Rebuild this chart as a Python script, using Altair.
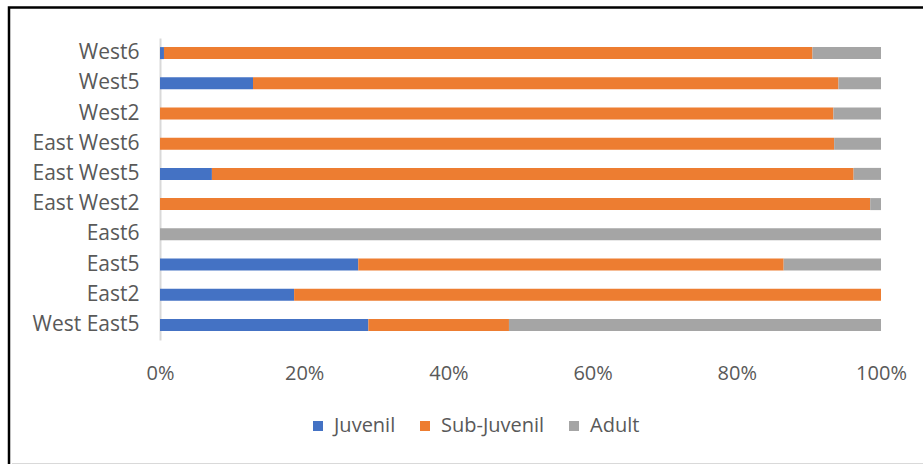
import altair as alt
import pandas as pd

categories = ["West6", "West5", "West2", "East West6", "East West5",
              "East West2", "East6", "East5", "East2", "West East5"]
juvenil = [0.55, 12.9, 0.0, 0.0, 7.2, 0.0, 0.0, 27.5, 18.6, 28.9]
sub_juvenil = [89.95, 81.2, 93.4, 93.5, 89.0, 98.5, 0.0, 59.0, 81.4, 19.5]
adult = [9.5, 5.9, 6.6, 6.5, 3.8, 1.5, 100.0, 13.5, 0.0, 51.6]
series = ["Juvenil", "Sub-Juvenil", "Adult"]
colors = ["#4472C4", "#ED7D31", "#A5A5A5"]

rows = []
for i, c in enumerate(categories):
    for k, (s, vals) in enumerate(zip(series, [juvenil, sub_juvenil, adult])):
        rows.append({"site": c, "stage": s, "value": vals[i], "order": k})
df = pd.DataFrame(rows)

FONT = "Open Sans"
FS = 20
W, H = 721, 302

bars = alt.Chart(df).mark_bar(size=12).encode(
    y=alt.Y("site:N", sort=categories, title=None,
            scale=alt.Scale(paddingInner=0.6, paddingOuter=0.3),
            axis=alt.Axis(labelFontSize=21, labelColor="#595959", labelFont=FONT,
                          labelPadding=21, ticks=False, domainColor="#D9D9D9",
                          domainWidth=2, grid=False)),
    x=alt.X("value:Q", stack="normalize", title=None,
            scale=alt.Scale(domain=[0, 1]),
            axis=alt.Axis(format="%", values=[0, 0.2, 0.4, 0.6, 0.8, 1.0],
                          labelFontSize=FS, labelColor="#595959", labelFont=FONT,
                          labelPadding=23, ticks=False, domain=False, grid=False,
                          labelFlush=False)),
    color=alt.Color("stage:N", sort=series,
                    scale=alt.Scale(domain=series, range=colors),
                    legend=alt.Legend(title=None, orient="none", direction="horizontal",
                                      legendX=148, legendY=378,
                                      symbolType="square", symbolSize=100,
                                      symbolStrokeWidth=0,
                                      labelFontSize=FS, labelColor="#595959",
                                      labelFont=FONT, columnPadding=19,
                                      labelOffset=6)),
    order=alt.Order("order:Q"),
)

frame_df = pd.DataFrame({"k": [0]})
frame = alt.Chart(frame_df).mark_rect(fill=None, stroke="black", strokeWidth=2.5,
                                      clip=False).encode(
    x=alt.value(-151), x2=alt.value(W + 60),
    y=alt.value(-30.5), y2=alt.value(H + 160),
)
bottom_line = alt.Chart(frame_df).mark_rule(color="#D9D9D9", strokeWidth=2).encode(
    x=alt.value(-148), x2=alt.value(W + 60),
    y=alt.value(H + 124),
)

chart = alt.layer(frame, bottom_line, bars).properties(
    width=W, height=H,
    autosize=alt.AutoSizeParams(type="none"),
    padding={"left": 160, "top": 38, "right": 42, "bottom": 124},
    background="white",
).configure_view(stroke=None)

chart.save("out.html", embed_options={"renderer": "svg", "actions": False})
